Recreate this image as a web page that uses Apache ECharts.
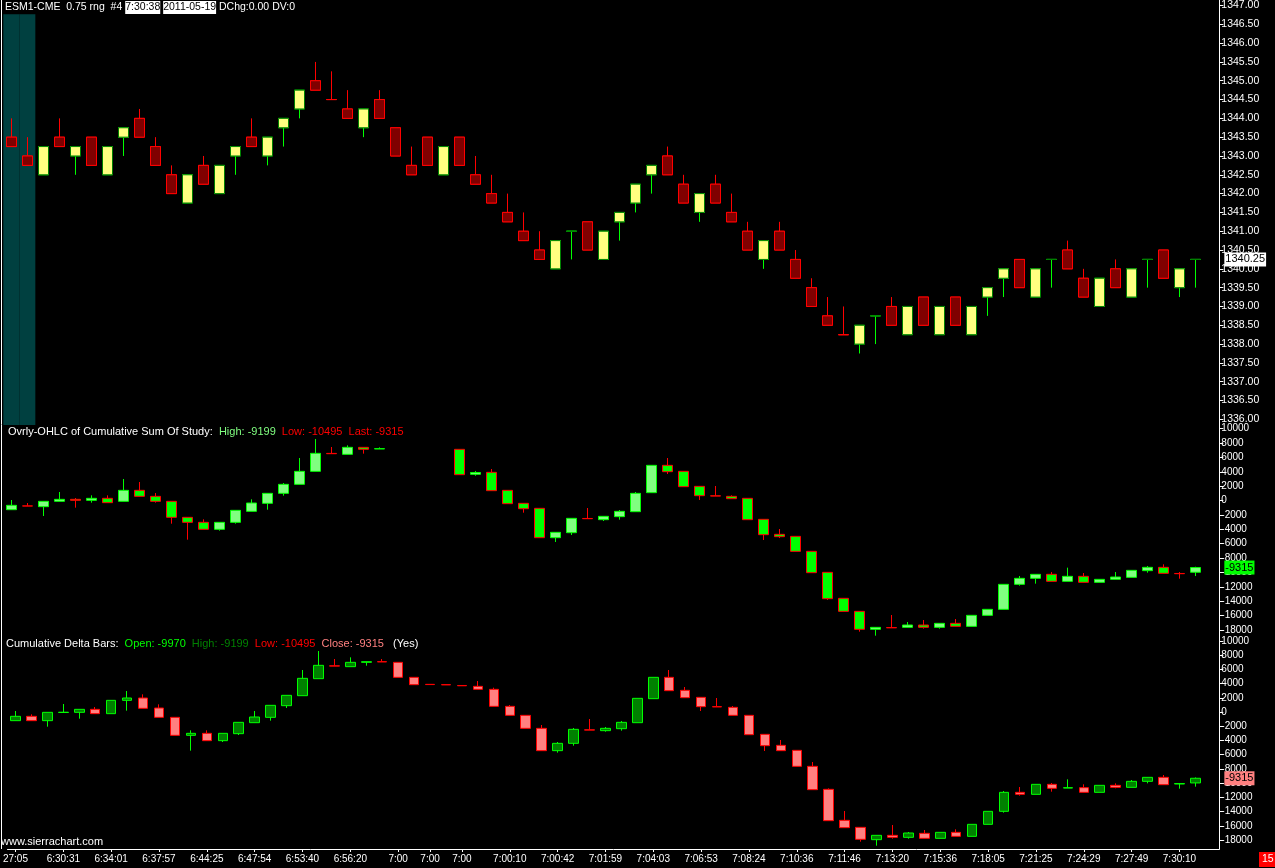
<!DOCTYPE html>
<html>
<head>
<meta charset="utf-8">
<title>ESM1-CME 0.75 rng</title>
<script src="https://cdn.jsdelivr.net/npm/echarts@6.0.0/dist/echarts.min.js"></script>
<style>
  html, body { margin: 0; padding: 0; background: #000; }
  #chart { width: 1275px; height: 868px; }
</style>
</head>
<body>
<div id="chart"></div>
<script>
// price bars (ESM1 0.75 range)
var priceOpen  = [1343.50,1343.00,1342.50,1343.50,1343.00,1343.50,1342.50,1343.50,1344.00,1343.25,
                  1342.50,1341.75,1342.75,1342.00,1343.00,1343.50,1343.00,1343.75,1344.25,1345.00,
                  1344.50,1344.25,1343.75,1344.50,1343.75,1342.75,1343.50,1342.50,1343.50,1342.50,
                  1342.00,1341.50,1341.00,1340.50,1340.00,1341.00,1341.25,1340.25,1341.25,1341.75,
                  1342.50,1343.00,1342.25,1341.50,1342.25,1341.50,1341.00,1340.25,1341.00,1340.25,
                  1339.50,1338.75,1338.25,1338.00,1338.75,1339.00,1338.25,1339.25,1338.25,1339.25,
                  1338.25,1339.25,1339.75,1340.25,1339.25,1340.25,1340.50,1339.75,1339.00,1340.00,
                  1339.25,1340.25,1340.50,1339.50,1340.25];
var priceClose = [1343.25,1342.75,1343.25,1343.25,1343.25,1342.75,1343.25,1343.75,1343.50,1342.75,
                  1342.00,1342.50,1342.25,1342.75,1343.25,1343.25,1343.50,1344.00,1344.75,1344.75,
                  1344.50,1344.00,1344.25,1344.00,1343.00,1342.50,1342.75,1343.25,1342.75,1342.25,
                  1341.75,1341.25,1340.75,1340.25,1340.75,1341.00,1340.50,1341.00,1341.50,1342.25,
                  1342.75,1342.50,1341.75,1342.00,1341.75,1341.25,1340.50,1340.75,1340.50,1339.75,
                  1339.00,1338.50,1338.25,1338.50,1338.75,1338.50,1339.00,1338.50,1339.00,1338.50,
                  1339.00,1339.50,1340.00,1339.50,1340.00,1340.25,1340.00,1339.25,1339.75,1339.50,
                  1340.00,1340.25,1339.75,1340.00,1340.25];
var priceLow   = [1343.25,1342.75,1342.50,1343.25,1342.50,1342.75,1342.50,1343.00,1343.50,1342.75,
                  1342.00,1341.75,1342.25,1342.00,1342.50,1343.25,1342.75,1343.25,1344.00,1344.75,
                  1344.50,1344.00,1343.50,1344.00,1343.00,1342.50,1342.75,1342.50,1342.75,1342.25,
                  1341.75,1341.25,1340.75,1340.25,1340.00,1340.25,1340.50,1340.25,1340.75,1341.50,
                  1342.00,1342.50,1341.75,1341.25,1341.75,1341.25,1340.50,1340.00,1340.50,1339.75,
                  1339.00,1338.50,1338.25,1337.75,1338.00,1338.50,1338.25,1338.50,1338.25,1338.50,
                  1338.25,1338.75,1339.25,1339.50,1339.25,1339.50,1340.00,1339.25,1339.00,1339.50,
                  1339.25,1339.50,1339.75,1339.25,1339.50];
var priceHigh  = [1344.00,1343.50,1343.25,1344.00,1343.25,1343.50,1343.25,1343.75,1344.25,1343.50,
                  1342.75,1342.50,1343.00,1342.75,1343.25,1344.00,1343.50,1344.00,1344.75,1345.50,
                  1345.25,1344.75,1344.25,1344.75,1343.75,1343.25,1343.50,1343.25,1343.50,1343.00,
                  1342.50,1342.00,1341.50,1341.00,1340.75,1341.00,1341.25,1341.00,1341.50,1342.25,
                  1342.75,1343.25,1342.50,1342.00,1342.50,1342.00,1341.25,1340.75,1341.25,1340.50,
                  1339.75,1339.25,1339.00,1338.50,1338.75,1339.25,1339.00,1339.25,1339.00,1339.25,
                  1339.00,1339.50,1340.00,1340.25,1340.00,1340.25,1340.75,1340.00,1339.75,1340.25,
                  1340.00,1340.25,1340.50,1340.00,1340.25];

// Ovrly-OHLC of Cumulative Sum Of Study (null = no bar)
var sumOpen  = [-1266,-740,-848,-107,172,32,311,-107,1423,589,
                -107,-2332,-3027,-4001,-3027,-1497,-385,1006,2258,4066,
                6560,6430,7404,7180,null,null,null,null,7126,3650,
                3927,1423,-385,-1080,-5160,-4465,-2490,-2656,-2239,-1544,
                1099,4900,4066,1979,660,589,311,-2610,-4696,-4975,
                -7061,-9981,-13597,-15406,-17909,-17660,-17631,-17306,-17631,-17074,
                -17491,-15962,-15127,-11650,-10816,-10259,-11233,-10538,-11372,-10955,
                -10677,-9749,-9286,-10140,-9970];
var sumClose = [-663,-760,-107,172,32,311,-292,1423,589,-107,
                -2332,-3027,-4001,-3027,-1358,-338,1006,2258,4066,6569,
                6520,7404,7126,7220,null,null,null,null,3602,3900,
                1377,-431,-1127,-5160,-4418,-2471,-2520,-2193,-1497,1006,
                4900,4019,1933,681,630,264,-2656,-4743,-5021,-7061,
                -10028,-13644,-15406,-17909,-17631,-17700,-17306,-17631,-17074,-17491,
                -15962,-15127,-11650,-10816,-10259,-11233,-10538,-11372,-10955,-10630,
                -9703,-9286,-10120,-10170,-9315];
var sumLow   = [-1266,-760,-2146,-107,-987,-292,-292,-107,589,-292,
                -3213,-5438,-4001,-4186,-3213,-1497,-1266,681,2258,4066,
                6520,6430,6523,7180,null,null,null,null,3602,3450,
                1377,-431,-1683,-5160,-5762,-4789,-2520,-2842,-2656,-1544,
                1099,3695,1933,79,630,264,-2656,-5484,-5206,-7061,
                -10028,-13829,-15406,-18233,-18790,-17700,-17631,-17816,-17816,-17491,
                -17491,-15962,-15127,-11836,-11557,-11233,-11233,-11372,-11372,-10955,
                -10677,-10028,-10120,-10862,-10495];
var sumHigh  = [79,-338,-107,1191,357,728,728,3000,2582,1052,
                -107,-2332,-2610,-3027,-1358,172,1006,2443,5920,8563,
                7450,7682,7404,7400,null,null,null,null,7126,4112,
                4390,1423,-385,-1080,-4418,-2471,-1034,-2193,-1312,1191,
                4900,5920,4066,1979,2026,728,311,-2610,-3955,-4975,
                -7061,-9981,-13597,-15406,-17631,-15915,-16889,-16611,-17074,-16472,
                -15962,-15127,-11650,-10491,-10259,-9935,-9332,-10074,-10955,-9935,
                -9703,-9100,-8869,-9935,-9199];

// Cumulative Delta Bars
var deltaOpen  = [-1210,-600,-1210,-60,-38,385,-225,1651,1979,572,
                  -741,-3274,-2992,-4024,-3039,-1492,-741,900,2307,4699,
                  6500,6388,7000,7090,6997,4887,3900,3860,3740,3621,
                  3199,807,-460,-2289,-5431,-4399,-2500,-2617,-2336,-1492,
                  1885,4887,3058,2073,760,666,-460,-3133,-4681,-5384,
                  -7635,-10871,-15233,-16218,-17953,-17344,-17625,-17062,-17765,-16922,
                  -17484,-15796,-13967,-11293,-11575,-10168,-10690,-10637,-11293,-10309,
                  -10590,-9746,-9183,-10120,-9970];
var deltaClose = [-600,-1210,-38,-20,385,-225,1651,1979,525,-741,
                  -3274,-2992,-4024,-2992,-1445,-694,947,2354,4746,6575,
                  6470,6997,7090,7060,4887,3855,3870,3830,3700,3199,
                  807,-460,-2289,-5431,-4399,-2429,-2540,-2289,-1445,1932,
                  4887,3011,2026,760,730,-460,-3180,-4728,-5431,-7635,
                  -10918,-15280,-16265,-17906,-17344,-17625,-17015,-17765,-16922,-17484,
                  -15796,-13967,-11293,-11575,-10168,-10731,-10640,-11293,-10309,-10590,
                  -9746,-9183,-10215,-10060,-9315];
var deltaLow   = [-1210,-1210,-2054,-60,-929,-225,-225,197,525,-741,
                  -3274,-5431,-4024,-4212,-3227,-1492,-1210,572,2307,4699,
                  6470,6388,6528,7060,4887,3855,3870,3830,3700,3199,
                  807,-460,-2289,-5431,-5712,-4728,-2540,-2758,-2617,-1492,
                  1885,3011,2026,150,730,-460,-3180,-5478,-5431,-7635,
                  -10918,-15280,-16265,-18235,-18798,-17812,-17812,-17765,-17765,-17484,
                  -17484,-15796,-14154,-11762,-11575,-11200,-10690,-11293,-11293,-10731,
                  -10590,-10027,-10215,-10778,-10495];
var deltaHigh  = [150,-319,-38,1135,385,713,1651,2964,2495,1088,
                  -741,-2570,-2570,-2992,-1445,150,947,2354,5919,8592,
                  7466,7701,7090,7466,6997,4887,3900,3860,3740,4371,
                  3433,994,-460,-1820,-4212,-2242,-976,-2101,-1258,1932,
                  4887,5919,3527,2073,1979,854,-460,-3133,-3930,-5384,
                  -7026,-10730,-13920,-16218,-17344,-15890,-16875,-16593,-16922,-16499,
                  -15796,-13967,-11106,-10543,-10168,-9980,-9464,-10168,-10309,-10027,
                  -9558,-9183,-8855,-10060,-9199];

// time labels on the bottom axis (bar index -> label)
var labelIdx  = [0,3,6,9,12,15,18,21,24,26,28,31,34,37,40,43,46,49,52,55,58,61,64,67,70,73];
var labelText = ['27:05','6:30:31','6:34:01','6:37:57','6:44:25','6:47:54','6:53:40','6:56:20',
                 '7:00','7:00','7:00','7:00:10','7:00:42','7:01:59','7:04:03','7:06:53','7:08:24',
                 '7:10:36','7:11:46','7:13:20','7:15:36','7:18:05','7:21:25','7:24:29','7:27:49','7:30:10'];

var priceTicks = [1336,1336.5,1337,1337.5,1338,1338.5,1339,1339.5,1340,1340.5,1341,1341.5,
                  1342,1342.5,1343,1343.5,1344,1344.5,1345,1345.5,1346,1346.5,1347];
var deltaTicks = [10000,8000,6000,4000,2000,0,-2000,-4000,-6000,-8000,-10000,-12000,-14000,-16000,-18000];

// session highlight (first two bars)
var sessionBars = [0, 1];
var sessionTop = 1346.77;

var barCount = priceOpen.length;
var last = barCount - 1;

var categories = [];
for (var i = 0; i <= barCount; i++) { categories.push(String(i)); }  // one empty slot at the right

var priceData = priceOpen.map(function (o, i) { return [o, priceClose[i], priceLow[i], priceHigh[i]]; });
var priceBody = priceOpen.map(function (o, i) {
    var c = priceClose[i];
    return [o, c, Math.min(o, c), Math.max(o, c)];
});
var sumData = sumOpen.map(function (o, i) {
    return o === null ? '-' : [o, sumClose[i], sumLow[i], sumHigh[i]];
});
var deltaData = deltaOpen.map(function (o, i) { return [o, deltaClose[i], deltaLow[i], deltaHigh[i]]; });
var sessionData = categories.map(function (c, i) { return sessionBars.indexOf(i) >= 0 ? sessionTop : '-'; });

var font = 'Liberation Sans, Arial, sans-serif';

function hasLabel(index) { return labelIdx.indexOf(index) >= 0; }

function txt(color, size, bg) {
    var s = { color: color, fontSize: size, fontFamily: font, fontWeight: 'normal' };
    if (bg) { s.backgroundColor = bg; s.padding = [1, 0, 1, 0]; }
    return s;
}

function valueAxis(grid, min, max, ticks, fmt, size) {
    return {
        type: 'value', gridIndex: grid, position: 'right', min: min, max: max, scale: true,
        splitLine: { show: false },
        axisLine: { show: true, lineStyle: { color: '#fff', width: 1 } },
        axisTick: { show: true, length: 4, customValues: ticks, lineStyle: { color: '#fff' } },
        axisLabel: { customValues: ticks, color: '#fff', fontSize: size, fontFamily: font, margin: 2, formatter: fmt }
    };
}

// invisible line, only its end label is drawn over the axis
function lastLabel(value, text, bg, size) {
    return {
        silent: true, symbol: 'none', animation: false,
        lineStyle: { color: 'rgba(0,0,0,0)', width: 1, type: 'solid' },
        label: { show: true, position: 'end', distance: 5, formatter: text, color: '#000', backgroundColor: bg,
                 opacity: 1, padding: [2, 1, 1, 1], fontSize: size, fontFamily: font },
        emphasis: { disabled: true },
        data: [{ yAxis: value }]
    };
}

var chart = echarts.init(document.getElementById('chart'));

chart.setOption({
    backgroundColor: '#000',
    animation: false,
    title: [
        {
            left: 5, top: 1, padding: 0,
            text: '{w|ESM1-CME  0.75 rng  #4 }{h|7:30:38}{w| }{h|2011-05-19}{w| DChg:0.00 DV:0}',
            textStyle: { fontWeight: 'normal', rich: { w: txt('#fff', 10.5), h: txt('#000', 10.5, '#fff') } }
        },
        {
            left: 8, top: 426, padding: 0,
            text: '{w|Ovrly-OHLC of Cumulative Sum Of Study:  }{g|High: ' + sumHigh[last] + '}{r|  Low: ' + sumLow[last] +
                  '  Last: ' + sumClose[last] + '}',
            textStyle: { fontWeight: 'normal', rich: { w: txt('#fff', 11), g: txt('#80ff80', 11), r: txt('#ff0000', 11) } }
        },
        {
            left: 6, top: 638, padding: 0,
            text: '{w|Cumulative Delta Bars:  }{g|Open: ' + deltaOpen[last] + '}{d|  High: ' + deltaHigh[last] +
                  '}{r|  Low: ' + deltaLow[last] + '}{p|  Close: ' + deltaClose[last] + '}{w|   (Yes)}',
            textStyle: { fontWeight: 'normal', rich: {
                w: txt('#fff', 11), g: txt('#00ff00', 11), d: txt('#008000', 11),
                r: txt('#ff0000', 11), p: txt('#ff8080', 11)
            } }
        },
        {
            left: 1, top: 836, padding: 0, text: 'www.sierrachart.com',
            textStyle: txt('#fff', 11)
        },
        {
            left: 1259, top: 852, padding: [2, 3, 2, 3], text: '15', backgroundColor: '#ff0000',
            textStyle: txt('#fff', 10.5)
        }
    ],
    graphic: [
        { type: 'line', shape: { x1: 1.5, y1: 0, x2: 1.5, y2: 849 }, style: { stroke: '#fff', lineWidth: 1 }, silent: true }
    ],
    grid: [
        { left: 3.33, right: 55.67, top: 0, height: 425 },
        { left: 3.33, right: 55.67, top: 425, height: 213 },
        { left: 3.33, right: 55.67, top: 638, height: 211 }
    ],
    xAxis: [
        { type: 'category', gridIndex: 0, data: categories, show: false },
        { type: 'category', gridIndex: 1, data: categories, show: false },
        {
            type: 'category', gridIndex: 2, data: categories, position: 'bottom',
            axisLine: { show: true, onZero: false, lineStyle: { color: '#fff', width: 1 } },
            axisTick: { show: true, alignWithLabel: true, length: 3, interval: hasLabel, lineStyle: { color: '#fff' } },
            axisLabel: {
                interval: hasLabel, color: '#fff', fontSize: 10, fontFamily: font, margin: 5,
                formatter: function (v, i) { var k = labelIdx.indexOf(i); return k >= 0 ? labelText[k] : ''; }
            }
        }
    ],
    yAxis: [
        valueAxis(0, 1335.849, 1347.140, priceTicks, function (v) { return v.toFixed(2); }, 10.5),
        valueAxis(1, -19113, 10510, deltaTicks, function (v) { return String(v); }, 10),
        valueAxis(2, -19266, 10422, deltaTicks, function (v) { return String(v); }, 10)
    ],
    series: [
        {
            name: 'session', type: 'bar', xAxisIndex: 0, yAxisIndex: 0, data: sessionData,
            barWidth: '100%', barCategoryGap: '0%', clip: true, silent: true, z: 0,
            itemStyle: { color: '#004040' }
        },
        {
            name: 'price wicks', type: 'candlestick', xAxisIndex: 0, yAxisIndex: 0, data: priceData,
            barWidth: 10, z: 2, clip: false,
            itemStyle: { color: '#ffff80', color0: '#800000', borderColor: '#00ff00', borderColor0: '#ff0000', borderWidth: 1 }
        },
        {
            name: 'price', type: 'candlestick', xAxisIndex: 0, yAxisIndex: 0, data: priceBody,
            barWidth: 10, z: 3, clip: false,
            itemStyle: { color: '#ffff80', color0: '#800000', borderColor: '#008000', borderColor0: '#ff0000', borderWidth: 1 },
            markLine: lastLabel(priceClose[last], priceClose[last].toFixed(2), '#ffffff', 11)
        },
        {
            name: 'Cumulative Sum', type: 'candlestick', xAxisIndex: 1, yAxisIndex: 1, data: sumData,
            barWidth: 10, z: 2, clip: false,
            itemStyle: { color: '#80ff80', color0: '#00ff00', borderColor: '#00ff00', borderColor0: '#ff0000', borderWidth: 1 },
            markLine: lastLabel(sumClose[last], String(sumClose[last]), '#00ff00', 11)
        },
        {
            name: 'Cumulative Delta', type: 'candlestick', xAxisIndex: 2, yAxisIndex: 2, data: deltaData,
            barWidth: 10, z: 2, clip: false,
            itemStyle: { color: '#008000', color0: '#ff8080', borderColor: '#00ff00', borderColor0: '#ff0000', borderWidth: 1 },
            markLine: lastLabel(deltaClose[last], String(deltaClose[last]), '#ff8080', 11)
        }
    ]
});
</script>
</body>
</html>
